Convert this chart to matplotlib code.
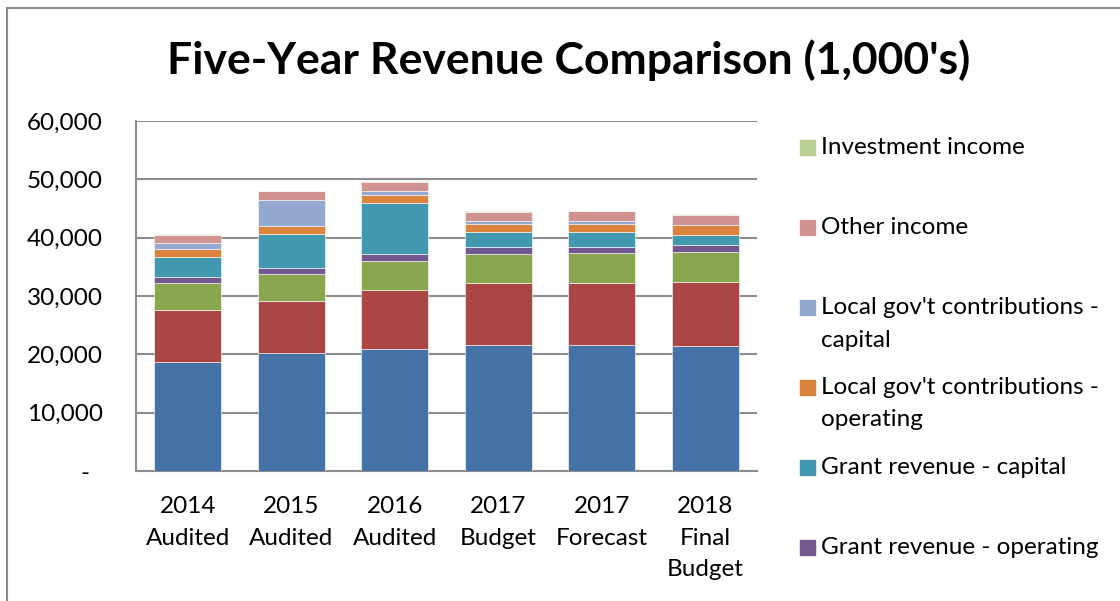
import matplotlib
matplotlib.use("Agg")
import matplotlib.pyplot as plt
import numpy as np
from matplotlib.patches import Rectangle
from matplotlib.ticker import FuncFormatter

# Data (thousands of dollars)
categories = ["2014\nAudited", "2015\nAudited", "2016\nAudited",
              "2017\nBudget", "2017\nForecast", "2018\nFinal\nBudget"]

passenger_fares = [18630, 20230, 20910, 21600, 21550, 21480]
sales_tax = [9020, 8960, 10070, 10680, 10730, 10970]
state_assistance = [4530, 4580, 4970, 4920, 5040, 5040]
grant_operating = [1030, 1080, 1200, 1250, 1130, 1250]
grant_capital = [3480, 5780, 8790, 2470, 2520, 1670]
local_operating = [1320, 1320, 1370, 1370, 1420, 1760]
local_capital = [1020, 4510, 740, 520, 420, 0]
other_income = [1500, 1490, 1560, 1610, 1710, 1740]
investment_income = [110, 110, 110, 120, 120, 110]

series_names = ["Passenger fares", "Sales tax", "State operating assistance",
                "Grant revenue - operating", "Grant revenue - capital",
                "Local gov't contributions -\noperating",
                "Local gov't contributions -\ncapital",
                "Other income", "Investment income"]
series_values = [passenger_fares, sales_tax, state_assistance, grant_operating,
                 grant_capital, local_operating, local_capital, other_income,
                 investment_income]
colors = ["#4572A7", "#AA4643", "#89A54E", "#71588F", "#4198AF",
          "#DB843D", "#93A9CF", "#D19392", "#B9CD96"]

plt.rcParams['font.family'] = ['Lato', 'DejaVu Sans']
W, H = 1120, 601
fs = 17.5
fig = plt.figure(figsize=(W / 100, H / 100), dpi=100)

# chart frame (cropped at right and bottom in the reference)
fig.patches.append(Rectangle((7 / W, -0.1), 1.2, 1 - 8 / H + 0.1,
                             transform=fig.transFigure, fill=False,
                             edgecolor="#8c8c8c", linewidth=1.5))

ax = fig.add_axes([136 / W, 1 - 471 / H, 621 / W, 350 / H])

x = np.arange(len(categories))
bottom = np.zeros(len(categories))
for name, vals, c in zip(series_names, series_values, colors):
    vals = np.array(vals, dtype=float)
    ax.bar(x, vals, width=0.645, bottom=bottom, color=c, label=name,
           edgecolor="white", linewidth=0.4, zorder=3)
    bottom += vals

ax.set_xlim(-0.5, len(categories) - 0.5)
ax.set_ylim(0, 60000)
ax.set_yticks(np.arange(0, 60001, 10000))
ax.yaxis.set_major_formatter(FuncFormatter(
    lambda v, p: "-  " if v == 0 else f"{int(v):,}"))
ax.grid(axis="y", color="#8c8c8c", linewidth=1.5, zorder=0)
for s in ["top", "right"]:
    ax.spines[s].set_visible(False)
for s in ["left", "bottom"]:
    ax.spines[s].set_color("#8c8c8c")
    ax.spines[s].set_linewidth(1.5)
ax.tick_params(axis="y", length=0, pad=24, labelsize=fs)
ax.tick_params(axis="x", length=0, pad=18, labelsize=fs)
ax.set_xticks(x)
ax.set_xticklabels(categories, linespacing=1.62)

fig.text(569 / W, 1 - 60 / H, "Five-Year Revenue Comparison (1,000's)",
         ha="center", va="center", fontsize=32, fontweight="bold")

# legend, top entries first (lower entries fall off the cropped image)
entry_y = 147
for name, c in zip(series_names[::-1], colors[::-1]):
    if entry_y + 10 > H:
        break
    fig.patches.append(Rectangle((800 / W, 1 - (entry_y + 7.5) / H), 15 / W, 15 / H,
                                 transform=fig.transFigure, color=c))
    for k, line in enumerate(name.split("\n")):
        fig.text(821 / W, 1 - (entry_y + 33 * k) / H, line,
                 ha="left", va="center", fontsize=fs)
    entry_y += 80

fig.savefig("out.png", dpi=100)
